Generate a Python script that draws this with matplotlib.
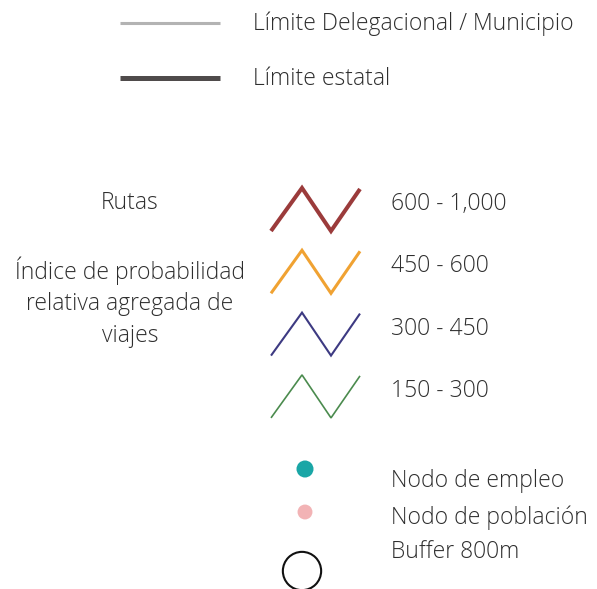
import matplotlib
matplotlib.use('Agg')
import matplotlib.pyplot as plt

plt.rcParams['font.family'] = ['Open Sans', 'DejaVu Sans']

boundary_labels = ['Límite Delegacional / Municipio', 'Límite estatal']
boundary_colors = ['#b3b3b3', '#4f4b4b']
boundary_widths = [2.2, 3.6]

route_labels = ['600 - 1,000', '450 - 600', '300 - 450', '150 - 300']
route_colors = ['#9b3b3b', '#f0a232', '#3d3a82', '#4b8b4e']
route_widths = [2.9, 2.2, 1.5, 1.2]

left_title = 'Rutas'
left_desc = ['Índice de probabilidad', 'relativa agregada de', 'viajes']

node_labels = ['Nodo de empleo', 'Nodo de población', 'Buffer 800m']
node_colors = ['#1aa6a6', '#f2b3b5', 'none']

# zigzag glyph in pixel units (relative to lower-left)
zig_x = [0, 31, 60, 89]
zig_y = [0, -43, 0, -42]

txt_color = '#2e2e2e'
fs = 16.5

fig = plt.figure(figsize=(5.97, 5.89), dpi=100)
ax = fig.add_axes([0, 0, 1, 1])
ax.set_xlim(0, 597)
ax.set_ylim(589, 0)
ax.axis('off')

def label(x, y, s, ha='left'):
    ax.text(x, y, s, fontsize=fs, color=txt_color, va='center', ha=ha, fontweight='light')

# boundary lines
for i, (lab, c, w) in enumerate(zip(boundary_labels, boundary_colors, boundary_widths)):
    y = 23 + i * 55
    ax.plot([120, 220], [y, y], color=c, lw=w, solid_capstyle='butt')
    label(253, y + 1, lab)

# route zigzags
for i, (lab, c, w) in enumerate(zip(route_labels, route_colors, route_widths)):
    y0 = 231 + i * 62.3
    ax.plot([271 + dx for dx in zig_x], [y0 + dy for dy in zig_y], color=c, lw=w,
            solid_joinstyle='miter', solid_capstyle='butt')
    label(391, y0 - 27, lab)

label(130, 203, left_title, ha='center')
for i, line in enumerate(left_desc):
    label(130, 271 + i * 32.5, line, ha='center')

# nodes
ax.scatter([305], [469], s=150, color=node_colors[0], edgecolors='none')
ax.scatter([305], [512], s=115, color=node_colors[1], edgecolors='none')
ax.scatter([302], [571], s=760, facecolors='none', edgecolors='#111111', linewidths=1.5)
for lab, y in zip(node_labels, [481, 518, 552]):
    label(391, y, lab)

fig.savefig('out.png', dpi=100)
